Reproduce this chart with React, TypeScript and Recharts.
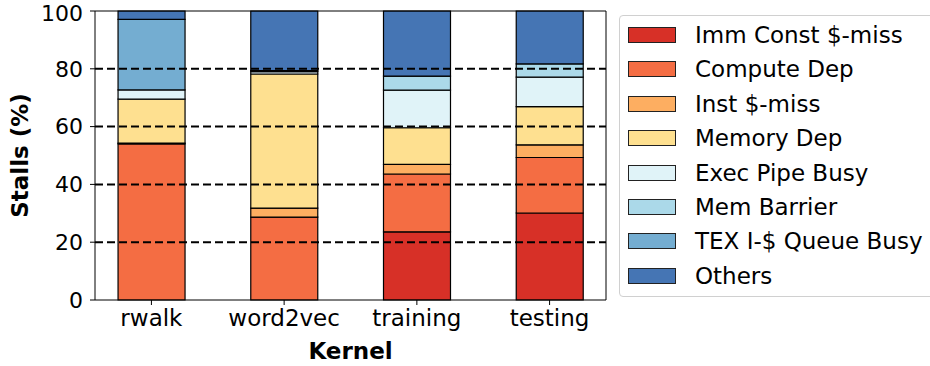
import React from 'react';
import { BarChart, Bar, XAxis, YAxis, ReferenceLine } from 'recharts';

const kernels = ['rwalk', 'word2vec', 'training', 'testing'];

const immConstMiss = [0, 0, 23.6, 30.1];
const computeDep = [54.0, 28.7, 20.0, 19.2];
const instMiss = [0.3, 3.1, 3.3, 4.4];
const memoryDep = [15.2, 46.4, 12.7, 13.2];
const execPipeBusy = [3.2, 0.8, 13.0, 10.2];
const memBarrier = [0, 0.4, 4.9, 4.6];
const texQueueBusy = [24.4, 0, 0, 0];
const others = [2.9, 20.6, 22.5, 18.3];

const yTicks = [0, 20, 40, 60, 80, 100];
const gridLines = [20, 40, 60, 80];

const series = [
  { key: 'imm', name: 'Imm Const $-miss', color: '#d73027', values: immConstMiss },
  { key: 'compute', name: 'Compute Dep', color: '#f46d43', values: computeDep },
  { key: 'inst', name: 'Inst $-miss', color: '#fdae61', values: instMiss },
  { key: 'memory', name: 'Memory Dep', color: '#fee090', values: memoryDep },
  { key: 'exec', name: 'Exec Pipe Busy', color: '#e0f3f8', values: execPipeBusy },
  { key: 'barrier', name: 'Mem Barrier', color: '#abd9e9', values: memBarrier },
  { key: 'tex', name: 'TEX I-$ Queue Busy', color: '#74add1', values: texQueueBusy },
  { key: 'others', name: 'Others', color: '#4575b4', values: others },
];

const data = kernels.map((name, i) => {
  const row: Record<string, number | string> = { name, x: i };
  series.forEach((s) => {
    row[s.key] = s.values[i];
  });
  return row;
});

const X_DOMAIN: [number, number] = [-0.425, 3.425];
const FONT = 'DejaVu Sans, sans-serif';
const FS = 23;

const Legend8: React.FC = () => (
  <div
    style={{
      position: 'absolute',
      left: 619,
      top: 15,
      width: 330,
      height: 282,
      border: '1px solid #d0d0d0',
      borderRadius: 4,
      boxSizing: 'border-box',
      background: '#fff',
      fontFamily: FONT,
      fontSize: FS,
      color: '#000',
    }}
  >
    {series.map((s, i) => (
      <div
        key={s.key}
        style={{ position: 'absolute', left: 8, top: 10 + i * 34.4, height: 18, display: 'flex', alignItems: 'center' }}
      >
        <div
          style={{
            width: 48,
            height: 16,
            background: s.color,
            border: '1px solid #222',
            boxSizing: 'border-box',
          }}
        />
        <span style={{ marginLeft: 19, whiteSpace: 'nowrap', lineHeight: '18px' }}>{s.name}</span>
      </div>
    ))}
  </div>
);

const App: React.FC = () => {
  return (
    <div style={{ position: 'absolute', left: 0, top: 0, width: 930, height: 366, background: '#fff', overflow: 'hidden' }}>
      <BarChart
        width={930}
        height={366}
        data={data}
        margin={{ top: 11, right: 324, bottom: 0, left: 0 }}
        style={{ fontFamily: FONT }}
      >
        <XAxis
          dataKey="x"
          type="number"
          domain={X_DOMAIN}
          ticks={[0, 1, 2, 3]}
          tickFormatter={(v: number) => kernels[v]}
          allowDataOverflow
          height={66}
          stroke="#000"
          tickSize={5}
          tickMargin={5}
          tick={{ fill: '#000', fontSize: FS }}
          label={{ value: 'Kernel', position: 'insideBottom', offset: 7, fill: '#000', fontSize: FS, fontWeight: 'bold' }}
        />
        <YAxis
          domain={[0, 100]}
          ticks={yTicks}
          width={95}
          stroke="#000"
          tickSize={5}
          tickMargin={7}
          tick={{ fill: '#000', fontSize: 22 }}
          label={{
            value: 'Stalls (%)',
            angle: -90,
            position: 'insideLeft',
            offset: 20,
            style: { textAnchor: 'middle', fill: '#000', fontSize: FS, fontWeight: 'bold' },
          }}
        />
        {series.map((s) => (
          <Bar
            key={s.key}
            dataKey={s.key}
            name={s.name}
            stackId="stalls"
            fill={s.color}
            stroke="#000"
            strokeWidth={1.2}
            barSize={67}
            isAnimationActive={false}
          />
        ))}
        {gridLines.map((y) => (
          <ReferenceLine key={y} y={y} stroke="#000" strokeWidth={2} strokeDasharray="8 4" />
        ))}
        <ReferenceLine y={100} stroke="#000" strokeWidth={1} />
        <ReferenceLine x={X_DOMAIN[1]} stroke="#000" strokeWidth={1} />
      </BarChart>
      <Legend8 />
    </div>
  );
};

export default App;
